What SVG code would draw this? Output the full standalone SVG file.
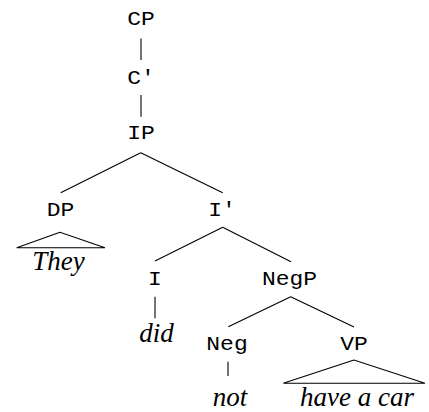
<svg xmlns="http://www.w3.org/2000/svg" width="429" height="412" viewBox="0 0 429 412">
<style>
.lbl{font-family:"Liberation Mono","Courier New",monospace;font-size:23px;fill:#000;text-anchor:middle}
.leaf{font-family:"Liberation Serif","Times New Roman",serif;font-style:italic;font-size:27px;fill:#000;text-anchor:middle}
.edge{stroke:#000;stroke-width:1.1;fill:none}
</style>
<rect width="429" height="412" fill="#fff"/>
<g id="connectors">
<line class="edge" x1="141" y1="38.5" x2="141" y2="60"/>
<line class="edge" x1="141" y1="95" x2="141" y2="116.7"/>
<line class="edge" x1="140.7" y1="152.7" x2="60.7" y2="192.7"/>
<line class="edge" x1="140.7" y1="152.7" x2="222.7" y2="192.7"/>
<line class="edge" x1="222.7" y1="227.3" x2="155" y2="261"/>
<line class="edge" x1="222.7" y1="227.3" x2="291" y2="261.7"/>
<line class="edge" x1="155" y1="296.7" x2="155" y2="318.3"/>
<line class="edge" x1="290.7" y1="296.7" x2="228.3" y2="326.7"/>
<line class="edge" x1="290.7" y1="296.7" x2="354" y2="327"/>
<line class="edge" x1="228" y1="361.7" x2="228" y2="376"/>
<polygon class="edge" points="60,232.3 16.7,247.7 105,247.7"/>
<polygon class="edge" points="354,360 283.3,383.3 425,383.3"/>
</g>
<g id="CP"><text class="lbl" transform="translate(141,24.5) scale(1,0.85)">CP</text></g>
<g id="Cbar"><text class="lbl" transform="translate(141,83.5) scale(1,0.85)">C′</text></g>
<g id="IP"><text class="lbl" transform="translate(141,138.5) scale(1,0.85)">IP</text></g>
<g id="DP"><text class="lbl" transform="translate(60.5,216) scale(1,0.85)">DP</text></g>
<g id="They"><text class="leaf" x="58.5" y="270">They</text></g>
<g id="Ibar"><text class="lbl" transform="translate(222,216) scale(1,0.85)">I′</text></g>
<g id="I"><text class="lbl" transform="translate(155,285) scale(1,0.85)">I</text></g>
<g id="did"><text class="leaf" x="156.5" y="341.5">did</text></g>
<g id="NegP"><text class="lbl" transform="translate(289.5,284.5) scale(1,0.85)">NegP</text></g>
<g id="Neg"><text class="lbl" transform="translate(227,350) scale(1,0.85)">Neg</text></g>
<g id="not"><text class="leaf" x="230" y="406">not</text></g>
<g id="VP"><text class="lbl" transform="translate(354,350) scale(1,0.85)">VP</text></g>
<g id="havecar"><text class="leaf" x="357" y="406">have a car</text></g>
</svg>
